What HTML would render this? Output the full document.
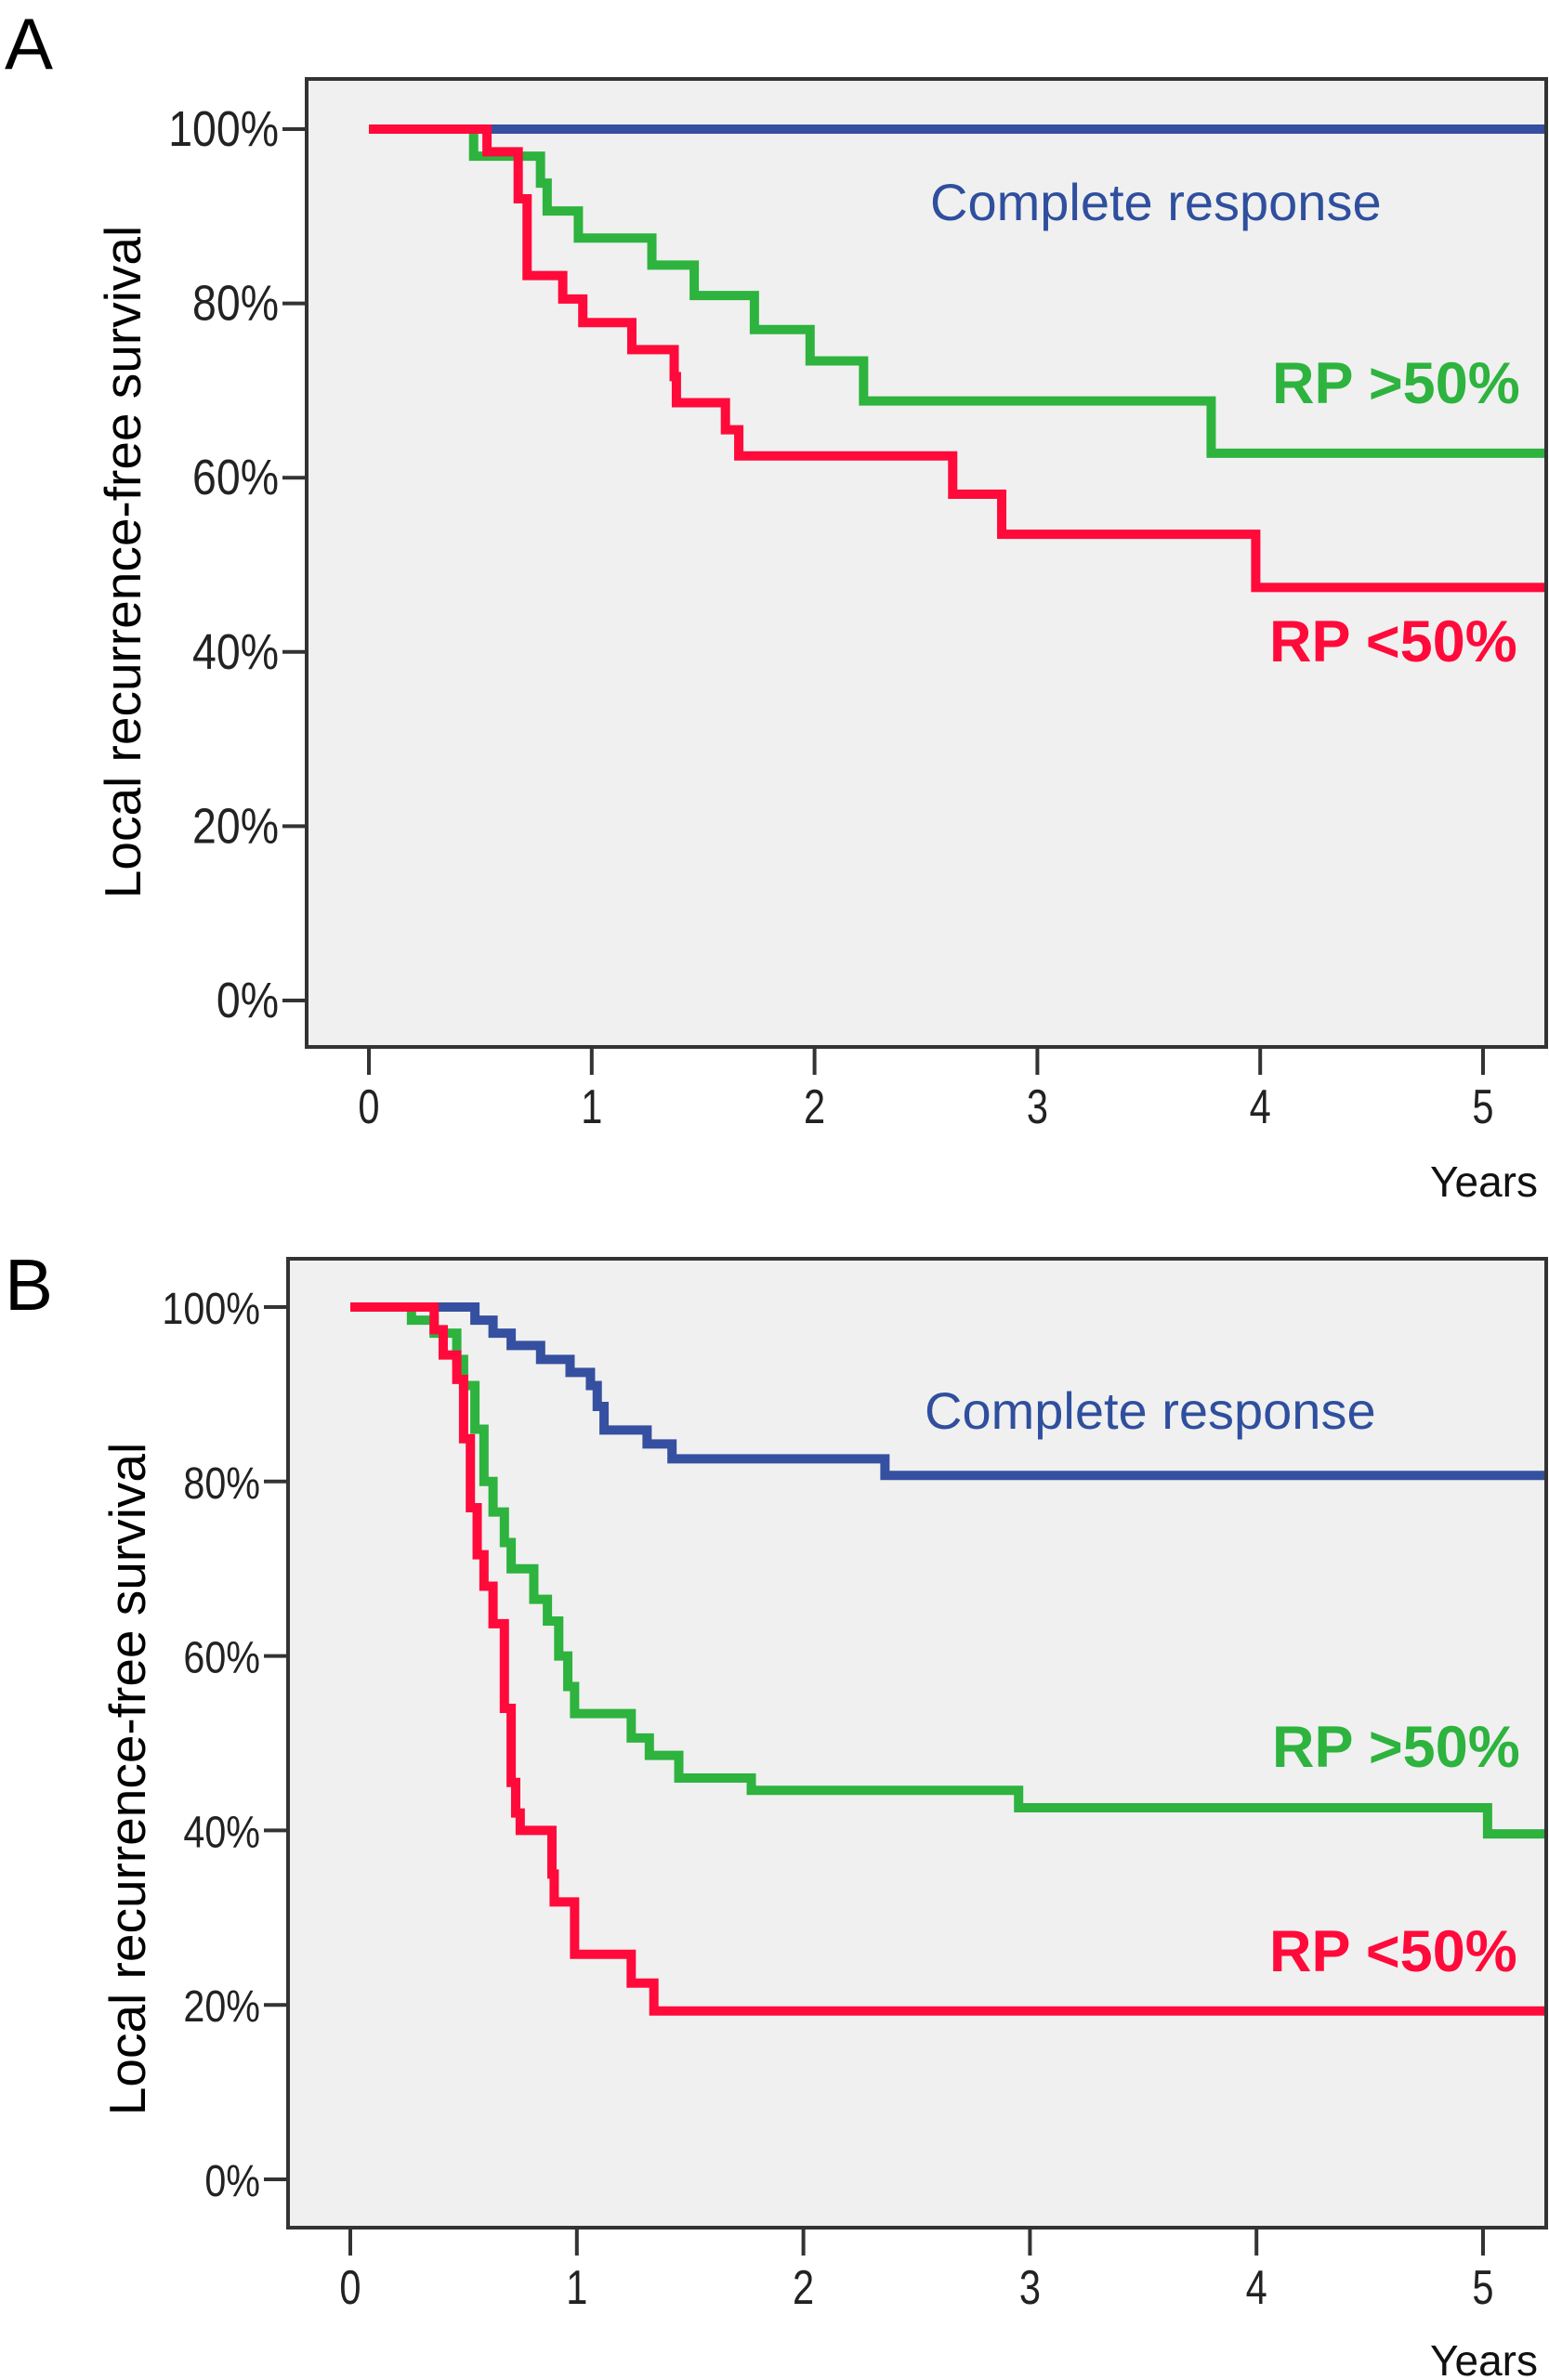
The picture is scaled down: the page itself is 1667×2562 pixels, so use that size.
<!DOCTYPE html>
<html><head><meta charset="utf-8"><style>
body{margin:0;background:#fff;}
svg{display:block;font-family:"Liberation Sans",sans-serif;}
</style></head><body>
<svg id="fig" width="1667" height="2562"></svg>
<script>
// Panel A data: step change times (years) and survival (%) after each step
const yearTicks = [0,1,2,3,4,5];
const pctTicks = [0,20,40,60,80,100];
const aBlueT = [0];
const aBlueS = [100];
const aRedT = [0,0.53,0.67,0.71,0.87,0.96,1.18,1.37,1.38,1.6,1.66,2.62,2.84,3.98];
const aRedS = [100,97.4,92,83.2,80.5,77.8,74.7,71.6,68.6,65.5,62.5,58.1,53.5,47.4];
const aGreenT = [0,0.47,0.77,0.8,0.94,1.27,1.46,1.73,1.98,2.22,3.78];
const aGreenS = [100,96.9,93.8,90.6,87.5,84.4,80.9,77,73.4,68.8,62.8];
// Panel B data
const bBlueT = [0,0.55,0.63,0.71,0.84,0.97,1.06,1.09,1.12,1.31,1.42,2.36];
const bBlueS = [100,98.5,97,95.6,94,92.5,91,88.6,85.9,84.3,82.6,80.7];
const bRedT = [0,0.37,0.41,0.47,0.5,0.53,0.56,0.59,0.63,0.68,0.71,0.73,0.75,0.89,0.9,0.99,1.24,1.34];
const bRedS = [100,97.4,94.5,91.7,84.9,77,71.6,68,63.7,54,45.5,42,40,35,31.8,25.8,22.5,19.3];
const bGreenT = [0,0.27,0.37,0.47,0.5,0.55,0.59,0.63,0.68,0.71,0.81,0.87,0.92,0.96,0.99,1.24,1.32,1.45,1.77,2.95,5.02];
const bGreenS = [100,98.5,97,94,91,86,80,76.5,73,70,66.5,64,60,56.5,53.4,50.6,48.6,46,44.6,42.6,39.6];

const NS='http://www.w3.org/2000/svg';
const svg=document.getElementById('fig');
function el(tag,attrs,parent){const e=document.createElementNS(NS,tag);for(const k in attrs)e.setAttribute(k,attrs[k]);(parent||svg).appendChild(e);return e;}

function panel(p){
  const g=el('g',{});
  
  
  const xS=v=>p.x0+(p.x5-p.x0)*v/5;
  const yS=v=>p.y0+(p.y100-p.y0)*v/100;
  const r=el('rect',{x:p.L,y:p.T,width:p.R-p.L,height:p.B-p.T,fill:'#f0f0f0',stroke:'#333','stroke-width':4},g);
  
  
  pctTicks.forEach(v=>{
    const y=yS(v);
    el('line',{x1:p.L-26,x2:p.L,y1:y,y2:y,stroke:'#333','stroke-width':4},g);
    const tx=p.L-30;
    const t=el('text',{x:tx,y:y+18,'text-anchor':'end','font-size':p.yfs,fill:'#222',transform:`translate(${tx},0) scale(0.86,1) translate(${-tx},0)`},g);
    t.textContent=v+'%';
    
    
  });
  yearTicks.forEach(v=>{
    const x=xS(v);
    el('line',{x1:x,x2:x,y1:p.B,y2:p.B+30,stroke:'#333','stroke-width':4},g);
    const t=el('text',{x:x,y:p.B+82,'text-anchor':'middle','font-size':52,fill:'#222',transform:`translate(${x},0) scale(0.8,1) translate(${-x},0)`},g);
    t.textContent=v;
    
    
  });
  const series=[[p.gT,p.gS,'#2db33e','rp-over-50-curve'],[p.rT,p.rS,'#ff0a3a','rp-under-50-curve'],[p.bT,p.bS,'#3550a0','complete-response-curve']];
  [2,0,1].forEach(i=>{
    const [T,S,c,n]=series[i];
    let d=`M${xS(T[0])},${yS(S[0])}`;
    for(let k=1;k<T.length;k++){d+=` H${xS(T[k])} V${yS(S[k])}`;}
    d+=` H${p.R-2}`;
    const path=el('path',{d:d,fill:'none',stroke:c,'stroke-width':10},g);
    
    
  });
  const labels=[[p.id.toUpperCase(),5,p.letterY,78,'#000','normal','start','panel-letter'],
    ['Complete response',p.crX,p.crY,56,'#2f4f9e','normal','start','complete-response-label'],
    ['RP >50%',1369,p.gY,63,'#2db33e','bold','start','rp-over-50-label'],
    ['RP <50%',1366,p.rY,63,'#ff0a3a','bold','start','rp-under-50-label'],
    ['Years',1655,p.yrY,46,'#111','normal','end','x-axis-title']];
  labels.forEach(([s,x,y,fs,c,w,a,n])=>{
    const t=el('text',{x:x,y:y,'font-size':fs,fill:c,'font-weight':w,'text-anchor':a},g);
    t.textContent=s;
    
    
  });
  const yt=el('text',{x:0,y:0,'font-size':55,fill:'#000','text-anchor':'middle',transform:`translate(${p.ytX},${p.ytY}) rotate(-90)`},g);
  yt.textContent='Local recurrence-free survival';
  
  
}
panel({id:'a',L:330,T:85,R:1664,B:1127,x0:397,x5:1596,y0:1077,y100:139,yfs:54,
  bT:aBlueT,bS:aBlueS,rT:aRedT,rS:aRedS,gT:aGreenT,gS:aGreenS,
  letterY:74,crX:1001,crY:237,gY:434,rY:712,yrY:1288,ytX:151,ytY:605});
panel({id:'b',L:310,T:1355,R:1664,B:2398,x0:377,x5:1596,y0:2346,y100:1407,yfs:48,
  bT:bBlueT,bS:bBlueS,rT:bRedT,rS:bRedS,gT:bGreenT,gS:bGreenS,
  letterY:1410,crX:995,crY:1538,gY:1902,rY:2122,yrY:2557,ytX:156,ytY:1915});
</script>
</body></html>
